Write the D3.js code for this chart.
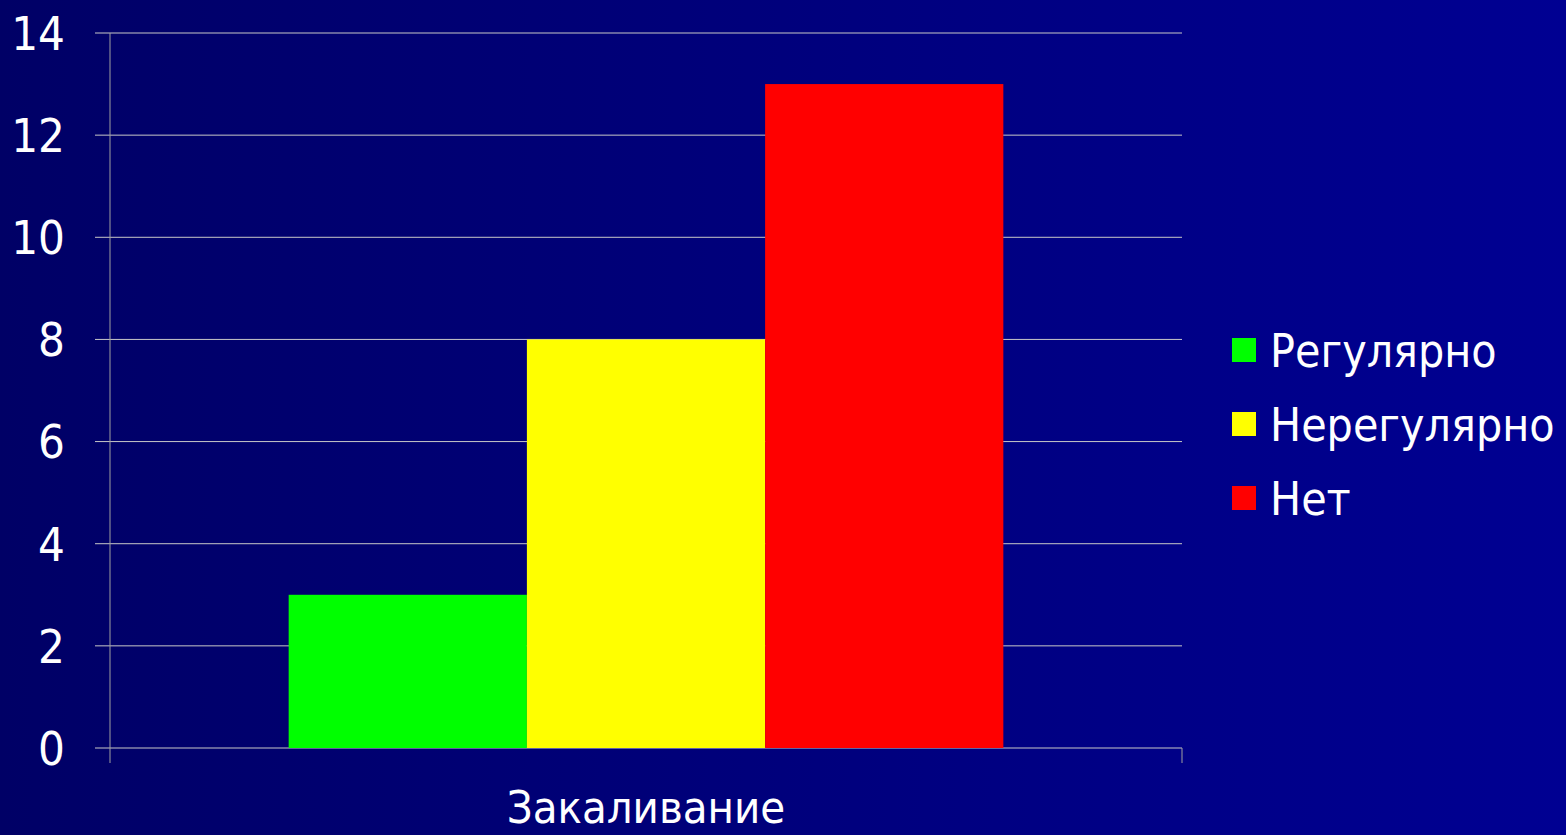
<!DOCTYPE html>
<html>
<head>
<meta charset="utf-8">
<script src="https://cdn.jsdelivr.net/npm/d3@7"></script>
<style>
  html, body { margin: 0; padding: 0; overflow: hidden; }
  text { font-family: "DejaVu Sans Condensed", "DejaVu Sans", Verdana, sans-serif; font-stretch: condensed; fill: #ffffff; }
</style>
</head>
<body>
<div id="chart"></div>
<script>
// data
var categories = ["Закаливание"];
var seriesNames = ["Регулярно", "Нерегулярно", "Нет"];
var seriesValues = [3, 8, 13];
var seriesColors = ["#00ff00", "#ffff00", "#ff0000"];
var yTicks = [0, 2, 4, 6, 8, 10, 12, 14];

var svgWidth = 1566;
var svgHeight = 835;

var margin = { top: 33, right: 384, bottom: 87, left: 110 };
var width = svgWidth - margin.left - margin.right;
var height = svgHeight - margin.top - margin.bottom;

var svg = d3.select("#chart")
  .append("svg")
  .attr("width", svgWidth)
  .attr("height", svgHeight);

// background gradient
var grad = svg.append("defs").append("linearGradient")
  .attr("id", "bg")
  .attr("x1", "0%").attr("x2", "100%")
  .attr("y1", "0%").attr("y2", "0%");
grad.append("stop").attr("offset", "0%").attr("stop-color", "#000066");
grad.append("stop").attr("offset", "100%").attr("stop-color", "#000092");

svg.append("rect")
  .attr("width", svgWidth)
  .attr("height", svgHeight)
  .attr("fill", "url(#bg)");

var chartGroup = svg.append("g")
  .attr("transform", `translate(${margin.left}, ${margin.top})`);

// scales
var x0 = d3.scaleBand()
  .domain(categories)
  .range([0, width])
  .paddingInner(0)
  .paddingOuter(0.25);

var x1 = d3.scaleBand()
  .domain(seriesNames)
  .range([0, x0.bandwidth()]);

var yLinearScale = d3.scaleLinear()
  .domain([0, 14])
  .range([height, 0]);

// gridlines
chartGroup.append("g")
  .selectAll("line")
  .data(yTicks)
  .enter()
  .append("line")
  .attr("x1", -15)
  .attr("x2", width)
  .attr("y1", d => yLinearScale(d))
  .attr("y2", d => yLinearScale(d))
  .attr("stroke", "#c8c8c8")
  .attr("stroke-width", 1);

// y axis line
chartGroup.append("line")
  .attr("x1", 0).attr("x2", 0)
  .attr("y1", 0).attr("y2", height + 15)
  .attr("stroke", "#a0a0a0")
  .attr("stroke-width", 1);

// x axis end tick
chartGroup.append("line")
  .attr("x1", width).attr("x2", width)
  .attr("y1", height).attr("y2", height + 15)
  .attr("stroke", "#a0a0a0")
  .attr("stroke-width", 1);

// y tick labels
chartGroup.append("g")
  .selectAll("text")
  .data(yTicks)
  .enter()
  .append("text")
  .attr("x", -45)
  .attr("y", d => yLinearScale(d))
  .attr("dy", "0.36em")
  .attr("text-anchor", "end")
  .attr("font-size", "47px")
  .text(d => d);

// bars
var barGroup = chartGroup.append("g")
  .selectAll("g")
  .data(categories)
  .enter()
  .append("g")
  .attr("transform", d => `translate(${x0(d)}, 0)`);

barGroup.selectAll("rect")
  .data(seriesNames.map((s, i) => ({ name: s, value: seriesValues[i], color: seriesColors[i] })))
  .enter()
  .append("rect")
  .attr("x", d => x1(d.name))
  .attr("y", d => yLinearScale(d.value))
  .attr("width", x1.bandwidth())
  .attr("height", d => height - yLinearScale(d.value))
  .attr("fill", d => d.color);

// category label
chartGroup.append("g")
  .selectAll("text")
  .data(categories)
  .enter()
  .append("text")
  .attr("x", d => x0(d) + x0.bandwidth() / 2)
  .attr("y", height + 75)
  .attr("text-anchor", "middle")
  .attr("font-size", "45px")
  .text(d => d);

// legend
var legend = svg.append("g")
  .attr("transform", "translate(1232, 350)");

var legendItems = legend.selectAll("g")
  .data(seriesNames)
  .enter()
  .append("g")
  .attr("transform", (d, i) => `translate(0, ${i * 74})`);

legendItems.append("rect")
  .attr("x", 0)
  .attr("y", -12)
  .attr("width", 24)
  .attr("height", 24)
  .attr("fill", (d, i) => seriesColors[i]);

legendItems.append("text")
  .attr("x", 38)
  .attr("y", 0)
  .attr("dy", "0.36em")
  .attr("font-size", "46px")
  .text(d => d);
</script>
</body>
</html>
